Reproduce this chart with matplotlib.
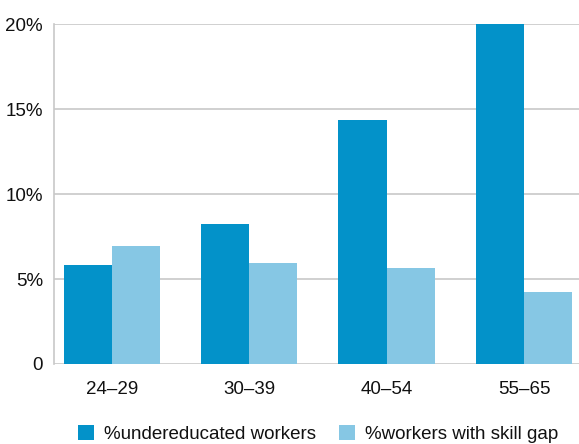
import matplotlib
matplotlib.use("Agg")
import matplotlib.pyplot as plt
import numpy as np

plt.rcParams["font.family"] = ["Liberation Sans Narrow", "Liberation Sans", "DejaVu Sans"]

age_groups = ["24\u201329", "30\u201339", "40\u201354", "55\u201365"]
undereducated = [5.8, 8.25, 14.35, 20.0]
skill_gap = [6.95, 5.95, 5.65, 4.25]
y_ticks = [0, 5, 10, 15, 20]
y_labels = ["0", "5%", "10%", "15%", "20%"]

DARK = "#0392c9"
LIGHT = "#86c7e4"
GRID = "#c8c8c8"
INK = "#111111"

fig = plt.figure(figsize=(5.79, 4.44), dpi=100)
ax = fig.add_axes([54 / 579, 1 - 364 / 444, 525 / 579, 340 / 444])

x = np.arange(len(age_groups))
w = 0.35
ax.bar(x - w / 2, undereducated, width=w, color=DARK, zorder=3,
       label="%undereducated workers")
ax.bar(x + w / 2, skill_gap, width=w, color=LIGHT, zorder=3,
       label="%workers with skill gap")

ax.set_xlim(-0.42, 3.4)
ax.set_ylim(0, 20)
ax.set_yticks(y_ticks)
ax.set_yticklabels(y_labels)
ax.set_xticks(x)
ax.set_xticklabels(age_groups)
ax.tick_params(length=0, labelsize=13.5, colors=INK)
ax.tick_params(axis="x", pad=12)
ax.tick_params(axis="y", pad=8)

ax.grid(axis="y", color=GRID, linewidth=1.2, zorder=0)
ax.set_axisbelow(True)
for s in ("top", "right", "bottom"):
    ax.spines[s].set_visible(False)
ax.spines["left"].set_color(GRID)
ax.spines["left"].set_linewidth(1.2)

handles, labels = ax.get_legend_handles_labels()
leg = fig.legend(handles, labels, loc="center", bbox_to_anchor=(318 / 579, 1 - 434 / 444),
                 ncol=2, frameon=False, fontsize=13.5, handlelength=0.85, handleheight=0.85,
                 handletextpad=0.55, columnspacing=1.2, borderaxespad=0, borderpad=0)
for t in leg.get_texts():
    t.set_color(INK)

fig.savefig("out.png", dpi=100, facecolor="white")
